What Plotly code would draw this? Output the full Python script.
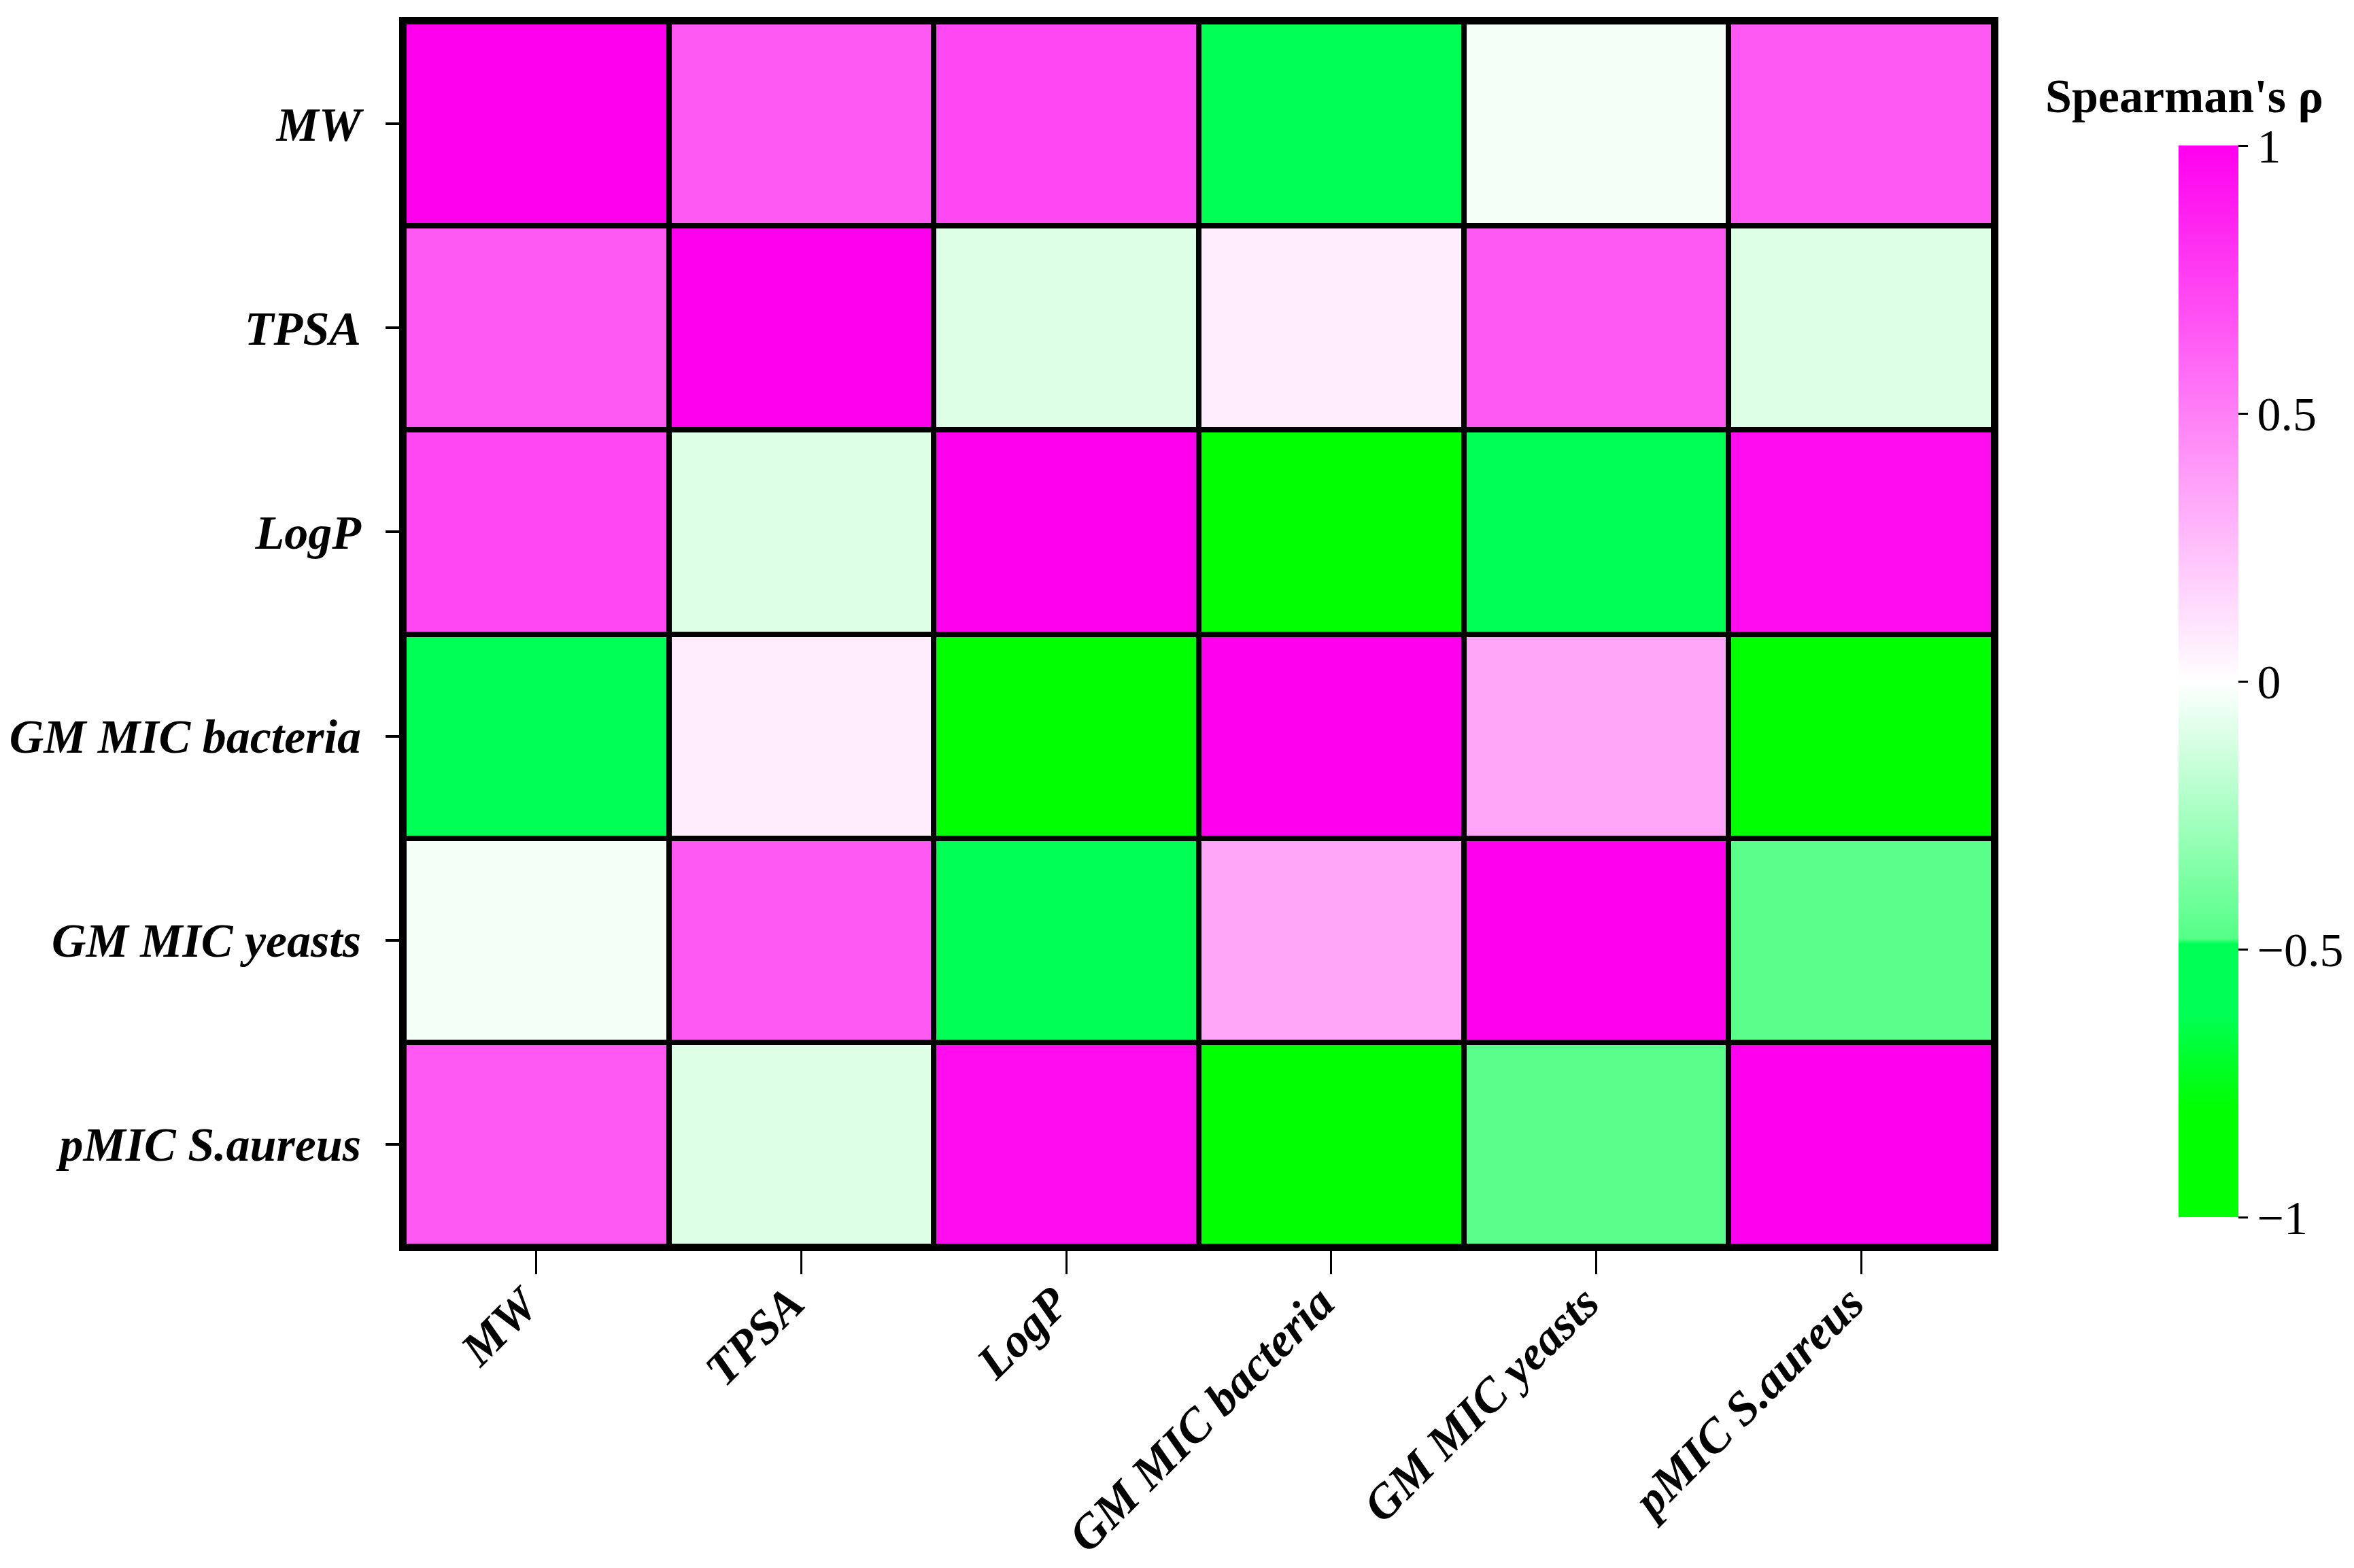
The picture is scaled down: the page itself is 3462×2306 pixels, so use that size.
import plotly.graph_objects as go

# Variables (same order on both axes)
labels = ["MW", "TPSA", "LogP", "GM MIC bacteria", "GM MIC yeasts", "pMIC S.aureus"]

# Spearman's rho matrix (rows top to bottom)
rho_mw = [1.00, 0.65, 0.72, -0.60, -0.03, 0.65]
rho_tpsa = [0.65, 1.00, -0.10, 0.07, 0.65, -0.10]
rho_logp = [0.72, -0.10, 1.00, -0.90, -0.60, 0.95]
rho_bact = [-0.60, 0.07, -0.90, 1.00, 0.35, -0.90]
rho_yeast = [-0.03, 0.65, -0.60, 0.35, 1.00, -0.47]
rho_saur = [0.65, -0.10, 0.95, -0.90, -0.47, 1.00]

cbar_ticks = [-1, -0.5, 0, 0.5, 1]
cbar_text = ["\u22121", "\u22120.5", "0", "0.5", "1"]

z = [rho_mw, rho_tpsa, rho_logp, rho_bact, rho_yeast, rho_saur]

# green - white - magenta scale like the original
colorscale = [
    [0.00, "#00FF00"],
    [0.10, "#00FF00"],
    [0.19, "#00FF55"],
    [0.255, "#00FF55"],
    [0.26, "#55FF88"],
    [0.50, "#FFFFFF"],
    [1.00, "#FF00EE"],
]

FONT = "Liberation Serif"
W, H = 3462, 2306
L, R, T, B = 586, 538, 24, 481
PW, PH = W - L - R, H - T - B


def py(pixel_from_top):
    # page pixel (from top) -> paper y
    return (H - B - pixel_from_top) / PH


def px(pixel_from_left):
    return (pixel_from_left - L) / PW


fig = go.Figure(go.Heatmap(
    z=z,
    x=labels,
    y=labels,
    zmin=-1,
    zmax=1,
    colorscale=colorscale,
    xgap=8,
    ygap=8,
    hoverinfo="skip",
    colorbar=dict(
        x=px(3196),
        xanchor="left",
        xpad=0,
        y=py(206),
        yanchor="top",
        ypad=0,
        len=1576,
        lenmode="pixels",
        thickness=88,
        outlinewidth=0,
        ticks="outside",
        ticklen=14,
        tickwidth=3,
        tickcolor="black",
        tickvals=cbar_ticks,
        ticktext=cbar_text,
        tickfont=dict(family=FONT, size=70, color="black"),
    ),
))

tickfont = dict(family=FONT, size=70, color="black", weight="bold", style="italic")

# rotated x labels as annotations, so their upper end sits right under the tick
annotations = [dict(
    text=lab, x=lab, xref="x", y=py(1866), yref="paper",
    xanchor="right", yanchor="top", xshift=22,
    textangle=-45, showarrow=False, font=tickfont,
) for lab in labels]

annotations.append(dict(
    text="<b>Spearman's \u03c1</b>",
    xref="paper", yref="paper",
    x=px(3204), y=py(134),
    xanchor="center", yanchor="middle",
    showarrow=False,
    font=dict(family=FONT, size=70, color="black"),
))

fig.update_layout(
    width=W,
    height=H,
    margin=dict(l=L, r=R, t=T, b=B, autoexpand=False),
    paper_bgcolor="white",
    plot_bgcolor="black",
    xaxis=dict(
        showgrid=False, zeroline=False, automargin=False,
        ticks="outside", ticklen=34, tickwidth=3, tickcolor="black",
        showticklabels=False,
        showline=True, linecolor="black", linewidth=7, mirror=True,
    ),
    yaxis=dict(
        showgrid=False, zeroline=False, autorange="reversed", automargin=False,
        ticks="outside", ticklen=20, tickwidth=4, tickcolor="black",
        tickfont=tickfont, ticklabelstandoff=22,
        showline=True, linecolor="black", linewidth=7, mirror=True,
    ),
    annotations=annotations,
)

fig.write_html("out.html")
